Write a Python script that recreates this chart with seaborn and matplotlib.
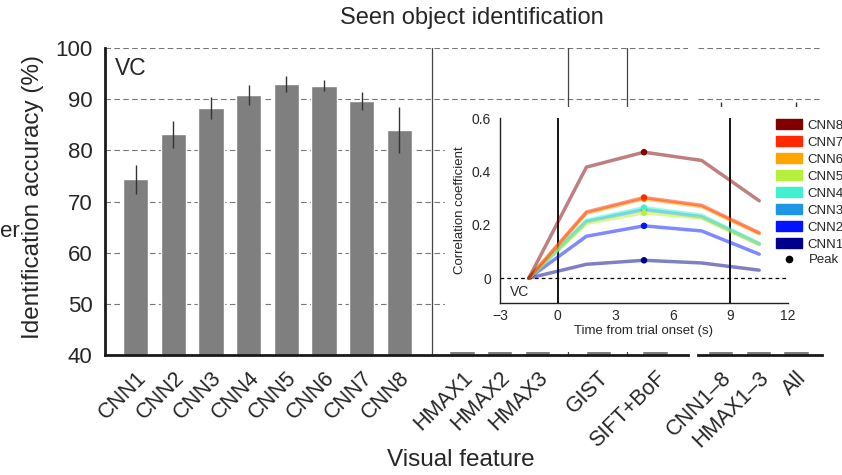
import numpy as np
import pandas as pd
import matplotlib
matplotlib.use("Agg")
import matplotlib.pyplot as plt
import seaborn as sns
from matplotlib.patches import Rectangle, Patch
from matplotlib.lines import Line2D

# ---------------- data ----------------
features = ["CNN1", "CNN2", "CNN3", "CNN4", "CNN5", "CNN6", "CNN7", "CNN8",
            "HMAX1", "HMAX2", "HMAX3", "GIST", "SIFT+BoF",
            "CNN1\u20138", "HMAX1\u20133", "All"]
accuracy = [74.3, 83.1, 88.3, 90.8, 93.0, 92.6, 89.6, 84.0,
            64.0, 66.0, 68.0, 65.0, 74.0,
            88.0, 72.0, 88.0]
accuracy_sem = [2.75, 2.6, 2.1, 2.0, 1.6, 1.1, 1.75, 4.5,
                2.0, 2.0, 2.0, 2.0, 2.0,
                1.5, 2.0, 1.5]

time_s = [-1.5, 1.5, 4.5, 7.5, 10.5]
layers = ["CNN8", "CNN7", "CNN6", "CNN5", "CNN4", "CNN3", "CNN2", "CNN1"]
corr_cnn8 = [0.0, 0.416, 0.472, 0.441, 0.290]
corr_cnn7 = [0.0, 0.248, 0.302, 0.273, 0.170]
corr_cnn6 = [0.0, 0.243, 0.297, 0.268, 0.166]
corr_cnn5 = [0.0, 0.205, 0.245, 0.225, 0.125]
corr_cnn4 = [0.0, 0.217, 0.264, 0.236, 0.130]
corr_cnn3 = [0.0, 0.212, 0.257, 0.230, 0.128]
corr_cnn2 = [0.0, 0.157, 0.196, 0.177, 0.090]
corr_cnn1 = [0.0, 0.052, 0.067, 0.057, 0.030]
corr_values = [corr_cnn8, corr_cnn7, corr_cnn6, corr_cnn5,
               corr_cnn4, corr_cnn3, corr_cnn2, corr_cnn1]

# ---------------- layout / style ----------------
x_pos = [0, 1, 2, 3, 4, 5, 6, 7, 8.67, 9.67, 10.67, 12.3, 13.8, 15.55, 16.55, 17.55]
separators = [7.87, 11.5, 13.05]
layer_colors = ["#800000", "#ff2a00", "#ffa500", "#b4f03c",
                "#40f0d0", "#1e96e6", "#0014ff", "#00008c"]

sns.set_style("white")
plt.rcParams["font.family"] = ["Liberation Sans", "DejaVu Sans"]

W, H = 842, 475
fig = plt.figure(figsize=(W / 100, H / 100), dpi=100)

def fx(px):
    return px / W

def fy(py):
    return 1 - py / H

ax1 = fig.add_axes([fx(105), fy(355), fx(688 - 105), (355 - 48) / H])
ax2 = fig.add_axes([fx(698), fy(355), fx(822 - 698), (355 - 48) / H])

df = pd.DataFrame({"x": x_pos, "acc": accuracy, "sem": accuracy_sem, "feat": features})
d1 = df[df["x"] < 14.5]
d2 = df[df["x"] > 14.5]

for ax, d, lim in [(ax1, d1, (-0.82, 14.68)), (ax2, d2, (14.95, 18.24))]:
    sns.barplot(data=d, x="x", y="acc", native_scale=True, color="#7f7f7f",
                saturation=1, width=0.67, errorbar=None, ax=ax, zorder=2)
    ax.errorbar(d["x"], d["acc"], yerr=d["sem"], fmt="none", ecolor="#333333",
                elinewidth=1.0, capsize=0, zorder=3)
    ax.set_xlim(*lim)
    ax.set_ylim(40, 100)
    ax.set_yticks(np.arange(40, 101, 10))
    ax.set_xticks(d["x"])
    ax.set_xticklabels(d["feat"], rotation=45, ha="right", va="top",
                       rotation_mode="anchor", fontsize=15.5)
    ax.set_xlabel("")
    ax.set_ylabel("")
    for yv in range(50, 101, 10):
        ax.axhline(yv, color="#777777", lw=0.8, dashes=(5, 3), zorder=1)
    for s in ["top", "right"]:
        ax.spines[s].set_visible(False)
    ax.spines["bottom"].set_linewidth(2)
    ax.spines["bottom"].set_color("#1a1a1a")
    ax.tick_params(axis="x", length=5, width=1.5, color="#1a1a1a", pad=4)
    ax.set_facecolor("none")

ax1.spines["left"].set_linewidth(2)
ax1.spines["left"].set_color("#1a1a1a")
ax1.tick_params(axis="y", length=6, width=1.5, labelsize=16, color="#1a1a1a", pad=3)
ax2.spines["left"].set_visible(False)
ax2.tick_params(axis="y", left=False, labelleft=False)

for sx in separators:
    ax1.axvline(sx, color="#444444", lw=0.9, zorder=1)

ax1.text(-0.55, 95.9, "VC", fontsize=16.5, va="center", ha="left")

fig.text(fx(33), fy(197), "Identification accuracy (%)", rotation=90,
         ha="center", va="center", fontsize=17.5)
fig.text(fx(461), fy(460), "Visual feature", ha="center", va="center", fontsize=17.5)
fig.text(fx(472), fy(18), "Seen object identification", ha="center", va="center",
         fontsize=17)
fig.text(fx(0), fy(231), "er", ha="left", va="center", fontsize=16)

# white box that hides part of the bar chart
fig.add_artist(Rectangle((fx(445), fy(352)), fx(842 - 445), (352 - 107) / H,
                         transform=fig.transFigure, facecolor="white",
                         edgecolor="none", zorder=1))

# ---------------- inset ----------------
axi = fig.add_axes([fx(500), fy(303), fx(288), (303 - 118) / H], zorder=2)
axi.set_facecolor("none")
long = pd.DataFrame({
    "t": np.tile(time_s, len(layers)),
    "r": np.concatenate(corr_values),
    "layer": np.repeat(layers, len(time_s)),
})
pal = dict(zip(layers, layer_colors))
axi.axhline(0, color="k", lw=0.9, dashes=(3, 2.5), zorder=1)
axi.axvline(0, color="k", lw=1.3, zorder=1)
axi.axvline(9, color="k", lw=1.3, zorder=1)
sns.lineplot(data=long, x="t", y="r", hue="layer", hue_order=layers[::-1],
             palette=pal, lw=2.5, alpha=0.5, legend=False, ax=axi, zorder=3)
peaks = long.loc[long.groupby("layer")["r"].idxmax()]
sns.scatterplot(data=peaks, x="t", y="r", hue="layer", palette=pal, s=22,
                edgecolor="none", legend=False, ax=axi, zorder=4)
axi.set_xlim(-3, 12)
axi.set_ylim(-0.093, 0.6)
axi.set_xticks([-3, 0, 3, 6, 9, 12])
axi.set_xticklabels(["\u22123", "0", "3", "6", "9", "12"])
axi.set_yticks([0, 0.2, 0.4, 0.6])
axi.set_yticklabels(["0", "0.2", "0.4", "0.6"])
axi.tick_params(axis="both", labelsize=10, length=3, width=0.8, color="#333333")
axi.tick_params(axis="x", direction="in", pad=4)
axi.set_xlabel("Time from trial onset (s)", fontsize=9.5, labelpad=2)
axi.set_ylabel("Correlation coefficient", fontsize=9.5, labelpad=4)
for s in ["top", "right"]:
    axi.spines[s].set_visible(False)
for s in ["left", "bottom"]:
    axi.spines[s].set_linewidth(1)
    axi.spines[s].set_color("#222222")
axi.text(-2.5, -0.05, "VC", fontsize=10, ha="left", va="center")

handles = [Patch(facecolor=c, edgecolor=c, label=l) for l, c in zip(layers, layer_colors)]
fig.legend(handles=handles, loc="upper left", bbox_to_anchor=(fx(776), fy(119)),
           frameon=False, fontsize=9.5, handlelength=2.0, handleheight=0.8,
           handletextpad=0.35, labelspacing=0.33, borderpad=0, borderaxespad=0)
fig.legend(handles=[Line2D([], [], marker="o", color="k", ls="none", ms=4.5, label="Peak")],
           loc="upper left", bbox_to_anchor=(fx(781), fy(254)), frameon=False,
           fontsize=9.5, handlelength=1.2, handletextpad=0.9, borderpad=0,
           borderaxespad=0)

fig.savefig("out.png", dpi=100)
